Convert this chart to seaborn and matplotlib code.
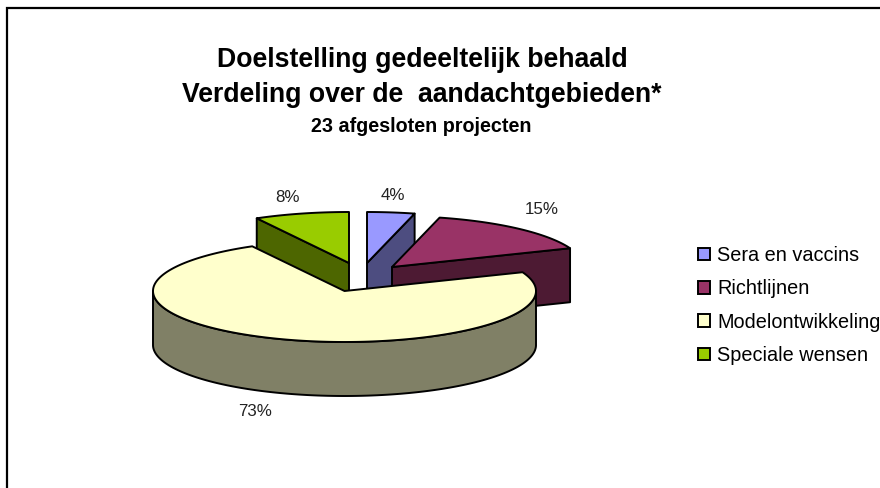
import numpy as np
import matplotlib
matplotlib.use("Agg")
import matplotlib.pyplot as plt
from matplotlib.patches import Patch, Rectangle
import seaborn as sns

# Data
categories = ["Sera en vaccins", "Richtlijnen", "Modelontwikkeling", "Speciale wensen"]
shares = [4, 15, 73, 8]
title_lines = ["Doelstelling gedeeltelijk behaald", "Verdeling over de  aandachtgebieden*"]
subtitle = "23 afgesloten projecten"

# Styles
top_colors = ["#9999FF", "#993366", "#FFFFCC", "#99CC00"]
side_colors = ["#4D4D80", "#4D1A33", "#808066", "#4D6600"]
apex_px = [(367, 263), (392, 267), (344.5, 291), (349, 263)]
label_px = [(393, 195), (542, 210), (255, 411), (287, 197)]
RX, RY, DEPTH = 191.5, 51, 54

sns.set_theme(style="white")
plt.rcParams["font.family"] = ["Liberation Sans", "DejaVu Sans"]

fig = plt.figure(figsize=(8.8, 4.88), dpi=100)
fig.patch.set_facecolor("white")
ax = fig.add_axes([0, 0, 1, 1])
ax.set_xlim(0, 880)
ax.set_ylim(488, 0)
ax.axis("off")

ax.add_patch(Rectangle((7, 8), 900, 520, fc="white", ec="black", lw=1.6, clip_on=True))

edges = np.cumsum([0] + shares) / sum(shares) * 2 * np.pi
LW = 1.4

# which radial edge of each slice shows a side face to the viewer
radial_faces = [[1], [1], [], [0]]


def ell(apex, t):
    return apex[0] + RX * np.sin(t), apex[1] - RY * np.cos(t)


def draw_slice(i):
    a, t0, t1 = apex_px[i], edges[i], edges[i + 1]
    for k in radial_faces[i]:
        ex, ey = ell(a, edges[i + k])
        ax.fill([a[0], ex, ex, a[0]], [a[1], ey, ey + DEPTH, a[1] + DEPTH],
                fc=side_colors[i], ec="black", lw=LW, joinstyle="round")
    lo, hi = max(t0, np.pi / 2), min(t1, 3 * np.pi / 2)
    if hi > lo:
        tr = np.linspace(lo, hi, 300)
        x, y = ell(a, tr)
        ax.fill(np.r_[x, x[::-1]], np.r_[y, y[::-1] + DEPTH],
                fc=side_colors[i], ec="black", lw=LW, joinstyle="round")
    x, y = ell(a, np.linspace(t0, t1, 200))
    ax.fill(np.r_[a[0], x], np.r_[a[1], y], fc=top_colors[i], ec="black", lw=LW, joinstyle="round")


for i in (0, 3, 1, 2):
    draw_slice(i)

for i, v in enumerate(shares):
    ax.text(*label_px[i], f"{v}%", ha="center", va="center", fontsize=12.2, color="#222222")

ax.text(422, 67, title_lines[0], ha="center", va="baseline", fontsize=19.2, fontweight="bold", color="black")
ax.text(422, 102, title_lines[1], ha="center", va="baseline", fontsize=19.2, fontweight="bold", color="black")
ax.text(421, 132, subtitle, ha="center", va="baseline", fontsize=14.2, fontweight="bold", color="black")

handles = [Patch(fc=c, ec="black", lw=1.4) for c in top_colors]
leg = ax.legend(handles, categories, loc="center left", bbox_to_anchor=(698 / 880, 1 - 305.5 / 488),
                bbox_transform=fig.transFigure, frameon=False, fontsize=14.3, borderpad=0, borderaxespad=0,
                handlelength=0.6, handleheight=0.6, handletextpad=0.36, labelspacing=0.72)
for t in leg.get_texts():
    t.set_color("black")

fig.savefig("out.png", dpi=100)
